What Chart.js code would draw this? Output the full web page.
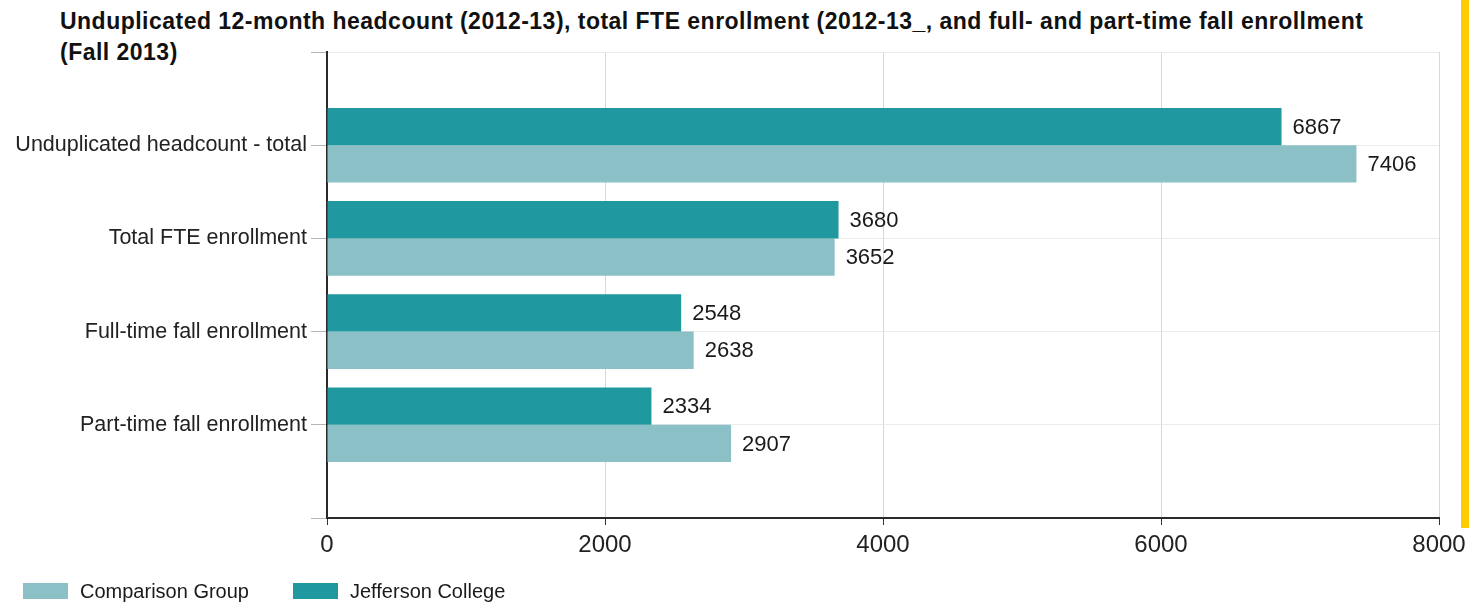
<!DOCTYPE html>
<html>
<head>
<meta charset="utf-8">
<script src="https://cdn.jsdelivr.net/npm/chart.js@4.4.1/dist/chart.umd.min.js"></script>
<style>
  html, body { margin: 0; padding: 0; background: #fff; }
  body { width: 1469px; height: 602px; position: relative; overflow: hidden; font-family: "Liberation Sans", Arial, sans-serif; }
  #title { position: absolute; left: 60px; top: 6px; font-weight: bold; font-size: 23px; letter-spacing: 0.48px; line-height: 31px; color: #111; }
  #chart { position: absolute; left: 0; top: 0; }
  #sideBar { position: absolute; left: 1461px; top: 0; width: 8px; height: 528px; background: #ffcc00; }
  #legend { position: absolute; left: 23px; top: 580px; display: flex; font-size: 20px; line-height: 22px; color: #1a1a1a; }
  #legend .item { display: flex; align-items: center; margin-right: 44px; }
  #legend .box { width: 45px; height: 16px; margin-right: 12px; }
</style>
</head>
<body>
<div id="title">Unduplicated 12-month headcount (2012-13), total FTE enrollment (2012-13_, and full- and part-time fall enrollment<br>(Fall 2013)</div>
<canvas id="chart" width="1469" height="602"></canvas>
<div id="sideBar"></div>
<div id="legend"></div>
<script>
// categorias y valores de cada serie
let categories = ['Unduplicated headcount - total', 'Total FTE enrollment', 'Full-time fall enrollment', 'Part-time fall enrollment'];
let jeffersonValues = [6867, 3680, 2548, 2334];
let comparisonValues = [7406, 3652, 2638, 2907];
let xTicks = [0, 2000, 4000, 6000, 8000];

let tealColor = '#1f989f';
let lightColor = '#8bc0c7';
let fontFamily = '"Liberation Sans", Arial, sans-serif';

// se deja un espacio vacio arriba y abajo para que las etiquetas caigan sobre las lineas
let pad = (arr) => [null, ...arr, null];

// dibuja el valor de cada barra a la derecha de su extremo
let valueLabels = {
    id: 'valueLabels',
    afterDatasetsDraw: (chart) => {
        let ctx = chart.ctx;
        ctx.save();
        ctx.font = '22px ' + fontFamily;
        ctx.fillStyle = '#1a1a1a';
        ctx.textBaseline = 'middle';
        chart.data.datasets.forEach((ds, i) => {
            chart.getDatasetMeta(i).data.forEach((bar, j) => {
                if (ds.data[j] == null) return;
                ctx.fillText(ds.data[j], bar.x + 11, bar.y + 1);
            });
        });
        ctx.restore();
    }
};

let chart = new Chart(document.getElementById('chart'), {
    type: 'bar',
    data: {
        labels: ['', ...categories, ''],
        datasets: [{
                label: 'Jefferson College',
                data: pad(jeffersonValues),
                backgroundColor: tealColor
            },
            {
                label: 'Comparison Group',
                data: pad(comparisonValues),
                backgroundColor: lightColor
            }
        ]
    },
    options: {
        indexAxis: 'y',
        responsive: false,
        animation: false,
        datasets: {
            bar: {
                categoryPercentage: 0.8,
                barPercentage: 1.0
            }
        },
        layout: {
            padding: { top: 52, right: 30, left: 0, bottom: 0 }
        },
        scales: {
            x: {
                min: xTicks[0],
                max: xTicks[xTicks.length - 1],
                ticks: {
                    stepSize: xTicks[1] - xTicks[0],
                    color: '#222',
                    font: { family: fontFamily, size: 24 },
                    padding: 6,
                    maxRotation: 0,
                    // sin separador de miles
                    callback: (value) => String(value)
                },
                grid: { color: '#d8d8d8', tickColor: '#333', tickLength: 7 },
                border: { color: '#2a2a2a', width: 2 },
                // la etiqueta 8000 cabe en el margen derecho, no hace falta mas espacio
                afterFit: (scale) => {
                    scale.height = 84;
                    scale.paddingRight = 0;
                    scale.paddingLeft = 0;
                }
            },
            y: {
                offset: false,
                ticks: {
                    color: '#222',
                    font: { family: fontFamily, size: 21.5 },
                    padding: 4,
                    autoSkip: false
                },
                grid: { offset: false, color: '#ebebeb', tickColor: '#b5b5b5', tickLength: 16 },
                border: { color: '#2a2a2a', width: 2 },
                afterFit: (scale) => { scale.width = 327; }
            }
        },
        plugins: {
            legend: { display: false },
            tooltip: { enabled: false }
        }
    },
    plugins: [valueLabels]
});

// leyenda en orden inverso al de las series
let legend = document.getElementById('legend');
chart.data.datasets.slice().reverse().forEach(ds => {
    let item = document.createElement('div');
    item.className = 'item';
    item.innerHTML = '<span class="box" style="background:' + ds.backgroundColor + '"></span><span>' + ds.label + '</span>';
    legend.appendChild(item);
});
</script>
</body>
</html>
